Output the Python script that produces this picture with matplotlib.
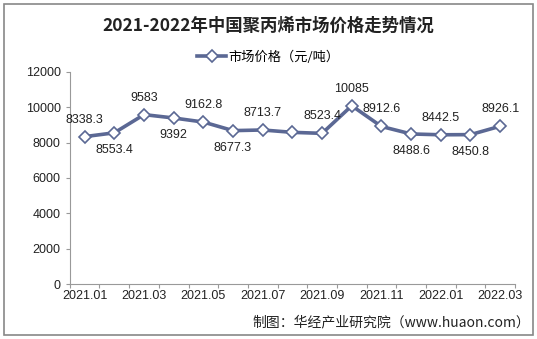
import matplotlib
matplotlib.use("Agg")
import matplotlib.pyplot as plt
from matplotlib.patches import Rectangle

plt.rcParams['font.family'] = ['Liberation Sans', 'Noto Sans CJK SC', 'DejaVu Sans']
cjk = ['Noto Sans CJK SC', 'DejaVu Sans']

months = ['2021.01', '2021.02', '2021.03', '2021.04', '2021.05', '2021.06', '2021.07', '2021.08',
          '2021.09', '2021.10', '2021.11', '2021.12', '2022.01', '2022.02', '2022.03']
price = [8338.3, 8553.4, 9583, 9392, 9162.8, 8677.3, 8713.7, 8580,
         8523.4, 10085, 8912.6, 8488.6, 8442.5, 8450.8, 8926.1]
# the 2021.08 point carries no label in the source
shown = [True, True, True, True, True, True, True, False,
         True, True, True, True, True, True, True]
label_side = [1, -1, 1, -1, 1, -1, 1, 0, 1, 1, 1, -1, 1, -1, 1]

line_col = '#5b6894'

fig = plt.figure(figsize=(5.37, 3.39), dpi=100)
ax = fig.add_axes([0.130, 0.162, 0.829, 0.626])

x = list(range(len(months)))
ax.plot(x, price, color=line_col, lw=2.6, marker='D', ms=6,
        mfc='white', mec=line_col, mew=1.2, label='市场价格（元/吨）', zorder=3)

for xi, v, s, side in zip(x, price, shown, label_side):
    if not s:
        continue
    ax.annotate(f'{v:g}', (xi, v), xytext=(0, 17 * side), textcoords='offset pixels',
                ha='center', va='center', fontsize=9, color='#222222')

ax.set_xlim(-0.5, len(months) - 0.5)
ax.set_ylim(0, 12000)
ax.set_yticks(range(0, 12001, 2000))
ax.set_xticks([i - 0.5 for i in range(len(months) + 1)])
ax.set_xticklabels([])
ax.set_xticks(x[::2], minor=True)
ax.set_xticklabels(months[::2], minor=True)
ax.tick_params(axis='x', which='major', length=3, color='#999999')
ax.tick_params(axis='x', which='minor', length=0, labelsize=9, pad=4, labelcolor='#222222')
ax.tick_params(axis='y', length=3, color='#999999', labelsize=9, labelcolor='#222222')

for sp in ['top', 'right']:
    ax.spines[sp].set_visible(False)
for sp in ['left', 'bottom']:
    ax.spines[sp].set_color('#999999')
    ax.spines[sp].set_linewidth(0.8)

fig.text(0.5, 0.925, '2021-2022年中国聚丙烯市场价格走势情况', ha='center', va='center',
         fontsize=12.5, fontweight='bold', family=cjk, color='#222222')

fig.legend(loc='center', bbox_to_anchor=(0.5, 0.832), frameon=False,
           handlelength=2.2, handletextpad=0.2, prop={'family': cjk, 'size': 9.5})

fig.text(0.987, 0.05, '制图：华经产业研究院（www.huaon.com）', ha='right', va='center',
         fontsize=10, family=cjk, color='#222222')

fig.patches.append(Rectangle((0.008, 0.012), 0.984, 0.976, transform=fig.transFigure,
                             fill=False, edgecolor='#888888', lw=1.2))

fig.savefig('out.png', dpi=100)
